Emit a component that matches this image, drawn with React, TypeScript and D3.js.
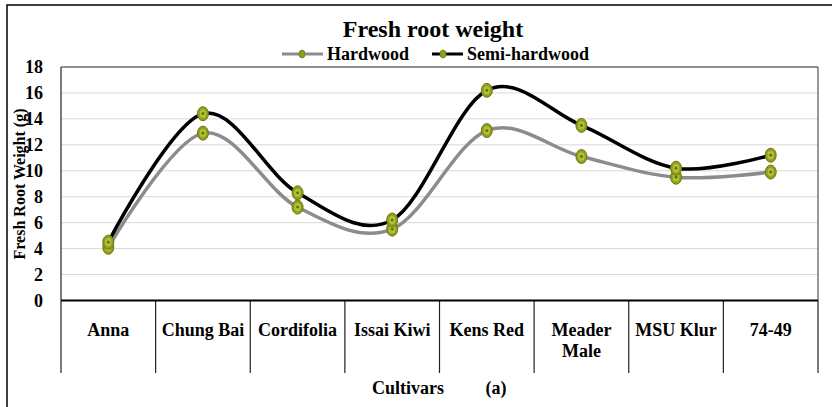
import * as d3 from "d3";

const categories = ["Anna", "Chung Bai", "Cordifolia", "Issai Kiwi", "Kens Red", "Meader Male", "MSU Klur", "74-49"];
const hardwood = [4.1, 12.9, 7.2, 5.5, 13.1, 11.1, 9.5, 9.9];
const semiHardwood = [4.5, 14.4, 8.3, 6.2, 16.2, 13.5, 10.2, 11.2];
const yTicks = [0, 2, 4, 6, 8, 10, 12, 14, 16, 18];

const W = 832;
const H = 407;
const left = 61;
const right = 818;
const top = 67;
const bottom = 300.5;
const font = "Liberation Serif";

const x = d3.scaleBand<string>().domain(categories).range([left, right]);
const y = d3.scaleLinear().domain([0, 18]).range([bottom, top]);

const line = d3.line<number>()
    .x((_, i) => (x(categories[i]) ?? 0) + x.bandwidth() / 2)
    .y(d => y(d))
    .curve(d3.curveCardinal.tension(0));

const Marker = ({ cx, cy }: { cx: number, cy: number }) => (
    <g>
        <ellipse cx={cx} cy={cy} rx={5.5} ry={7} fill="#8f9f1c" stroke="#6d7a10" strokeWidth={1} />
        <ellipse cx={cx} cy={cy} rx={3.2} ry={4.2} fill="#b4c03a" />
        <circle cx={cx} cy={cy} r={1.4} fill="#5f6a0e" />
    </g>
);

const series = [
    { name: "Hardwood", values: hardwood, color: "#8c8c8c" },
    { name: "Semi-hardwood", values: semiHardwood, color: "#000000" },
];

const txt = { fontFamily: font, fontWeight: "bold" as const };

const App = () => {
    const dividers = categories.map(c => x(c) ?? 0).concat([right]);
    return (
        <svg width={W} height={H} style={{ position: "absolute", left: 0, top: 0 }}>
            <rect x={0} y={0} width={W} height={H} fill="#fff" />
            <rect x={7} y={5} width={W} height={H} fill="none" stroke="#000" strokeWidth={1.5} />

            {/* gridlines */}
            {yTicks.filter(t => t > 0 && t < 18).map(t => (
                <line key={t} x1={left} x2={right} y1={y(t)} y2={y(t)} stroke="#d9d9d9" strokeWidth={1} />
            ))}
            <line x1={left} x2={right} y1={top} y2={top} stroke="#222" strokeWidth={1.2} />
            <line x1={right} x2={right} y1={top} y2={bottom} stroke="#555" strokeWidth={1.2} />
            <line x1={left} x2={left} y1={top} y2={bottom} stroke="#222" strokeWidth={1.2} />

            {/* y ticks */}
            {yTicks.map(t => (
                <text key={t} x={43} y={y(t)} dy="0.35em" textAnchor="end" fontSize={18} style={txt}>{t}</text>
            ))}
            <text transform={`translate(25,${184}) rotate(-90)`} textAnchor="middle" fontSize={16} style={txt}>
                Fresh Root Weight (g)
            </text>

            {/* category dividers and labels */}
            {dividers.map((d, i) => (
                <line key={i} x1={d} x2={d} y1={bottom} y2={373} stroke="#222" strokeWidth={1.2} />
            ))}
            <line x1={left} x2={right} y1={bottom} y2={bottom} stroke="#000" strokeWidth={2} />
            {categories.map(c => {
                const cx = (x(c) ?? 0) + x.bandwidth() / 2;
                const parts = c === "Meader Male" ? ["Meader", "Male"] : [c];
                return parts.map((p, j) => (
                    <text key={c + j} x={cx} y={330 + j * 21} dy="0.35em" textAnchor="middle" fontSize={18} style={txt}>{p}</text>
                ));
            })}
            <text x={408} y={388} dy="0.35em" textAnchor="middle" fontSize={18} style={txt}>Cultivars</text>
            <text x={496} y={388} dy="0.35em" textAnchor="middle" fontSize={18} style={txt}>(a)</text>

            {/* lines */}
            {series.map(s => (
                <path key={s.name} d={line(s.values) ?? ""} fill="none" stroke={s.color} strokeWidth={3.5} />
            ))}
            {series.map(s => s.values.map((v, i) => (
                <Marker key={s.name + i} cx={(x(categories[i]) ?? 0) + x.bandwidth() / 2} cy={y(v)} />
            )))}

            {/* title and legend */}
            <text x={433} y={37} textAnchor="middle" fontSize={24} style={txt}>Fresh root weight</text>
            <line x1={282} x2={323} y1={54} y2={54} stroke="#8c8c8c" strokeWidth={3} />
            <ellipse cx={302} cy={54} rx={3} ry={4} fill="#8f9f1c" stroke="#6d7a10" strokeWidth={0.8} />
            <text x={327} y={54} dy="0.35em" fontSize={18} style={txt}>Hardwood</text>
            <line x1={432} x2={463} y1={54} y2={54} stroke="#000" strokeWidth={3} />
            <ellipse cx={443} cy={54} rx={3} ry={4} fill="#8f9f1c" stroke="#6d7a10" strokeWidth={0.8} />
            <text x={467} y={54} dy="0.35em" fontSize={18} style={txt}>Semi-hardwood</text>
        </svg>
    );
};

export default App;
